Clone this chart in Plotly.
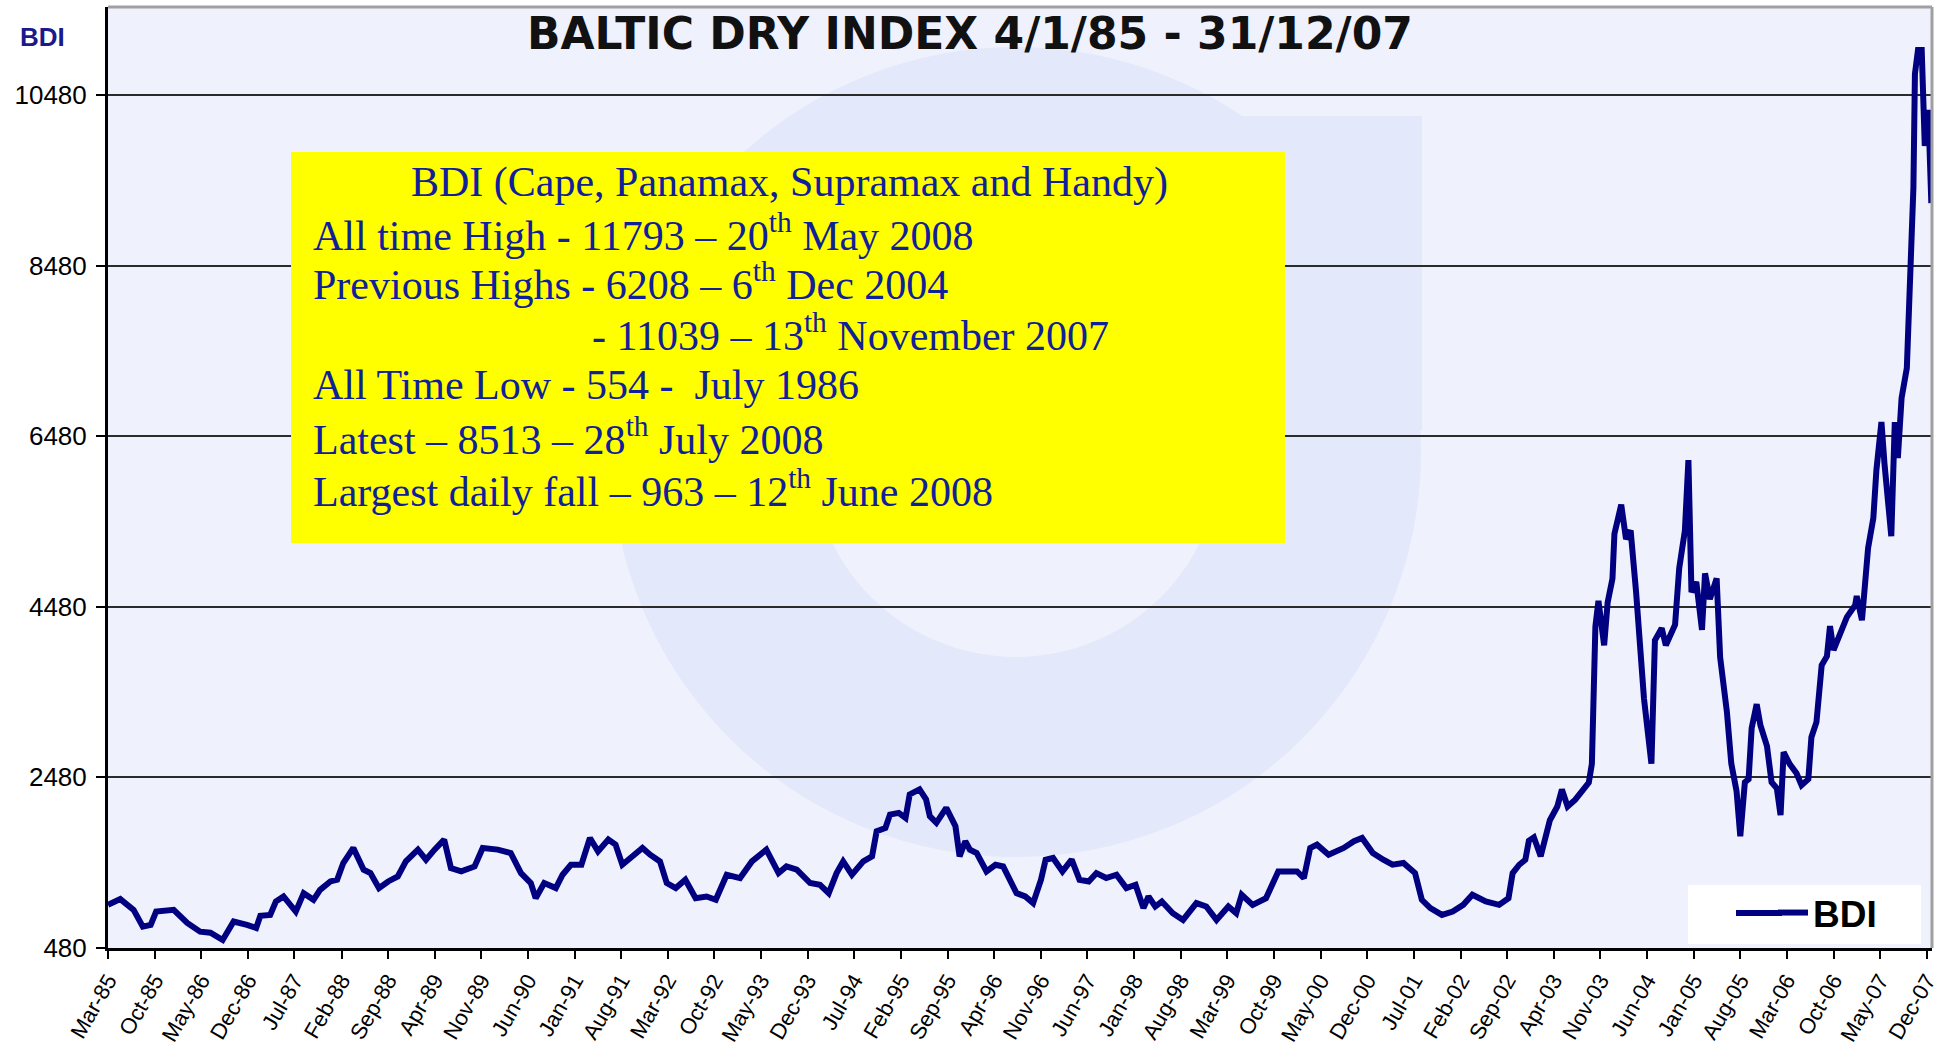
import plotly.graph_objects as go
import pandas as pd

# ---------------- data ----------------
dates = [
    "1985-03-01", "1985-04-26", "1985-06-26", "1985-08-07", "1985-09-12", "1985-10-07", "1985-12-26",
    "1986-02-26", "1986-04-26", "1986-06-12", "1986-08-07", "1986-09-26", "1986-11-26",
    "1987-01-07", "1987-01-26", "1987-03-12", "1987-04-07", "1987-05-12", "1987-07-07", "1987-08-12",
    "1987-09-26", "1987-10-26", "1987-12-12",
    "1988-01-12", "1988-02-09", "1988-03-26", "1988-05-12", "1988-06-12", "1988-07-21", "1988-09-01",
    "1988-10-15", "1988-11-21",
    "1989-01-15", "1989-02-21", "1989-04-01", "1989-05-15", "1989-06-15", "1989-08-01", "1989-10-01",
    "1989-11-07",
    "1990-01-15", "1990-03-15", "1990-05-01", "1990-06-15", "1990-07-07", "1990-08-15", "1990-10-07",
    "1990-11-07", "1990-12-15",
    "1991-02-01", "1991-03-12", "1991-04-18", "1991-06-04", "1991-07-07", "1991-08-07", "1991-09-21",
    "1991-11-07", "1991-12-12",
    "1992-01-26", "1992-02-26", "1992-04-07", "1992-05-21", "1992-07-07", "1992-08-26", "1992-10-07",
    "1992-11-26",
    "1993-01-26", "1993-03-21", "1993-05-26", "1993-07-21", "1993-08-26", "1993-10-12", "1993-12-12",
    "1994-01-26", "1994-03-07", "1994-04-12", "1994-05-12", "1994-06-21", "1994-08-12", "1994-09-21",
    "1994-10-12", "1994-11-21", "1994-12-12",
    "1995-01-21", "1995-02-21", "1995-03-12", "1995-04-26", "1995-05-26", "1995-06-12", "1995-07-12",
    "1995-08-26", "1995-10-07", "1995-10-26", "1995-11-21", "1995-12-12",
    "1996-01-12", "1996-02-26", "1996-04-07", "1996-05-12", "1996-07-12", "1996-08-21", "1996-09-26",
    "1996-11-01", "1996-11-22", "1996-12-26",
    "1997-02-07", "1997-03-21", "1997-04-26", "1997-06-07", "1997-07-12", "1997-08-26", "1997-10-12",
    "1997-11-26",
    "1998-01-07", "1998-02-12", "1998-03-07", "1998-04-07", "1998-05-07", "1998-06-26", "1998-08-12",
    "1998-10-12", "1998-11-26",
    "1999-01-12", "1999-03-07", "1999-04-12", "1999-05-07", "1999-06-26", "1999-08-26", "1999-10-21",
    "1999-11-26",
    "2000-01-15", "2000-02-15", "2000-03-15", "2000-04-15", "2000-06-07", "2000-08-15", "2000-10-01",
    "2000-11-07", "2000-12-07", "2000-12-26",
    "2001-02-12", "2001-03-26", "2001-05-15", "2001-07-07", "2001-08-07", "2001-09-15", "2001-11-07",
    "2001-12-26",
    "2002-02-12", "2002-03-26", "2002-05-26", "2002-07-26", "2002-09-07", "2002-09-26", "2002-10-26",
    "2002-11-23", "2002-12-09",
    "2003-01-01", "2003-02-01", "2003-02-23", "2003-03-15", "2003-04-18", "2003-05-09", "2003-06-04",
    "2003-07-09", "2003-08-09", "2003-09-09", "2003-09-23", "2003-10-04", "2003-10-09", "2003-10-23",
    "2003-11-18", "2003-12-04", "2003-12-26",
    "2004-01-04", "2004-02-04", "2004-02-26", "2004-03-18", "2004-04-12", "2004-05-04", "2004-05-18",
    "2004-06-21", "2004-07-07", "2004-08-07", "2004-08-26", "2004-10-07", "2004-10-26", "2004-11-21",
    "2004-12-07", "2004-12-21",
    "2005-01-12", "2005-02-07", "2005-02-21", "2005-03-15", "2005-04-15", "2005-05-01", "2005-06-01",
    "2005-06-21", "2005-07-15", "2005-08-01", "2005-08-22", "2005-09-08", "2005-09-22", "2005-10-15",
    "2005-11-01", "2005-12-01", "2005-12-22",
    "2006-01-15", "2006-02-01", "2006-02-15", "2006-03-15", "2006-04-15", "2006-05-08", "2006-06-08",
    "2006-06-22", "2006-07-15", "2006-08-08", "2006-09-01", "2006-09-15", "2006-10-01", "2006-11-01",
    "2006-12-01",
    "2007-01-08", "2007-01-15", "2007-02-08", "2007-02-22", "2007-03-08", "2007-04-01", "2007-04-15",
    "2007-05-08", "2007-05-22", "2007-06-22", "2007-07-08", "2007-07-22", "2007-08-08", "2007-09-01",
    "2007-09-15", "2007-10-01", "2007-10-08", "2007-10-22", "2007-11-08", "2007-11-22", "2007-12-08",
    "2007-12-22",
]

bdi = [
    986, 1053, 927, 731, 751, 907, 927,
    774, 672, 660, 574, 790, 751,
    715, 857, 868, 1025, 1084, 907, 1123,
    1045, 1162, 1260,
    1280, 1476, 1653, 1398, 1358, 1182, 1260,
    1319, 1495,
    1633, 1515, 1633, 1751, 1417, 1378, 1436,
    1653,
    1633, 1594, 1358, 1241, 1064, 1241, 1182,
    1339, 1456,
    1456, 1770, 1613, 1751, 1692, 1456, 1554,
    1653, 1574,
    1495, 1241, 1182, 1280, 1064, 1084, 1045,
    1339,
    1300, 1495, 1633, 1358, 1436, 1398, 1241,
    1221, 1123, 1358, 1495, 1339, 1495, 1554,
    1848, 1887, 2044,
    2064, 2005, 2280, 2339, 2221, 2025, 1947,
    2123, 1907, 1554, 1731, 1633,
    1594, 1378, 1456, 1436, 1123, 1084, 1006,
    1280, 1515, 1535,
    1378, 1515, 1280, 1260, 1358, 1300, 1339,
    1182,
    1221, 947, 1084, 966, 1025, 888, 809,
    1006, 966,
    809, 966, 888, 1104, 986, 1064, 1378,
    1378,
    1378, 1300, 1653, 1692, 1574, 1653, 1731,
    1770, 1653, 1594,
    1515, 1456, 1476, 1358, 1045, 947, 868,
    907,
    986, 1104, 1025, 986, 1064, 1358, 1456,
    1515, 1736,
    1777, 1555, 1777, 1978, 2138, 2339, 2138,
    2219, 2319, 2420, 2641, 3445, 4249, 4550,
    4028, 4530, 4811,
    5334, 5676, 5274, 5374, 4651, 3927, 3405,
    2641, 4088, 4229, 4028, 4269, 4932, 5374,
    6199, 4651,
    4771, 4209, 4872, 4570, 4812, 3887, 3244,
    2641, 2319, 1790, 2424, 2459, 3057, 3338,
    3092, 2846, 2424,
    2353, 2037, 2775, 2635, 2529, 2389, 2459,
    2951, 3127, 3796, 3901, 4253, 3972, 4148,
    4359,
    4499, 4605, 4323, 4746, 5168, 5520, 6082,
    6645, 6153, 5308, 6645, 6223, 6927, 7278,
    8334, 9389, 10726, 11007, 11007, 9882, 10304,
    9213,
]

x_tick_labels = [
    "Mar-85", "Oct-85", "May-86", "Dec-86", "Jul-87", "Feb-88", "Sep-88", "Apr-89", "Nov-89", "Jun-90",
    "Jan-91", "Aug-91", "Mar-92", "Oct-92", "May-93", "Dec-93", "Jul-94", "Feb-95", "Sep-95", "Apr-96",
    "Nov-96", "Jun-97", "Jan-98", "Aug-98", "Mar-99", "Oct-99", "May-00", "Dec-00", "Jul-01", "Feb-02",
    "Sep-02", "Apr-03", "Nov-03", "Jun-04", "Jan-05", "Aug-05", "Mar-06", "Oct-06", "May-07", "Dec-07",
]
x_tick_dates = pd.date_range("1985-03-01", periods=len(x_tick_labels), freq="7MS")
y_tick_values = [480, 2480, 4480, 6480, 8480, 10480]
y_tick_labels = ["480", "2480", "4480", "6480", "8480", "10480"]

title_text = "BALTIC DRY INDEX 4/1/85 - 31/12/07"
y_label_text = "BDI"
series_name = "BDI"
info_title = "BDI (Cape, Panamax, Supramax and Handy)"
info_lines = [
    "All time High - 11793 \u2013 20<sup>th</sup> May 2008",
    "Previous Highs - 6208 \u2013 6<sup>th</sup> Dec 2004",
    "- 11039 \u2013 13<sup>th</sup> November 2007",
    "All Time Low - 554 -\u00a0 July 1986",
    "Latest \u2013 8513 \u2013 28<sup>th</sup> July 2008",
    "Largest daily fall \u2013 963 \u2013 12<sup>th</sup> June 2008",
]

# ---------------- geometry helpers (pixel -> paper) ----------------
W, H = 1943, 1047
L, R, T, B = 108, 11, 7, 99
PW, PH = W - L - R, H - T - B


def px(x):
    return (x - L) / PW


def py(y):
    return (H - B - y) / PH


NAVY = "#000080"
TEXT_NAVY = "#10209A"
PLOT_BG = "#EFF1FD"
WATER = "#E3E9FA"

fig = go.Figure()
fig.add_trace(go.Scatter(
    x=dates, y=bdi, mode="lines", name="<b>" + series_name + "</b>",
    line=dict(color=NAVY, width=6),
))

CX, CY, RM = 1016, 452, 305
shapes = [
    dict(type="rect", xref="paper", yref="paper", x0=0, x1=1, y0=0, y1=1,
         fillcolor=PLOT_BG, line=dict(width=0), layer="below"),
    # faint watermark logo
    dict(type="circle", xref="paper", yref="paper",
         x0=px(CX - RM), x1=px(CX + RM), y0=py(CY + RM), y1=py(CY - RM),
         line=dict(color=WATER, width=200), fillcolor="rgba(0,0,0,0)", layer="below"),
    dict(type="rect", xref="paper", yref="paper", x0=px(1221), x1=px(1422), y0=py(430), y1=py(116),
         fillcolor=WATER, line=dict(width=0), layer="below"),
    dict(type="rect", xref="paper", yref="paper", x0=px(991), x1=px(1221), y0=py(213), y1=py(116),
         fillcolor=WATER, line=dict(width=0), layer="below"),
    # grey top / right frame
    dict(type="line", xref="paper", yref="paper", x0=0, x1=1, y0=1, y1=1,
         line=dict(color="#A0A0A0", width=3), layer="above"),
    dict(type="line", xref="paper", yref="paper", x0=1, x1=1, y0=0, y1=1,
         line=dict(color="#A0A0A0", width=3), layer="above"),
    # yellow info box
    dict(type="rect", xref="paper", yref="paper", x0=px(291), x1=px(1285), y0=py(543), y1=py(152),
         fillcolor="#FFFF00", line=dict(width=0), layer="above"),
    # legend white box and the long part of its line sample
    dict(type="rect", xref="paper", yref="paper", x0=px(1688), x1=px(1921), y0=py(944), y1=py(885),
         fillcolor="white", line=dict(width=0), layer="above"),
    dict(type="line", xref="paper", yref="paper", x0=px(1736), x1=px(1782), y0=py(913), y1=py(913),
         line=dict(color=NAVY, width=6), layer="above"),
]

serif = "Liberation Serif, Times New Roman, serif"
annotations = [
    dict(text="<b>" + title_text + "</b>", xref="paper", yref="paper", x=px(970), y=py(34),
         xanchor="center", yanchor="middle", showarrow=False,
         font=dict(family="DejaVu Sans, Verdana, sans-serif", size=44, color="#111111")),
    dict(text="<b>" + y_label_text + "</b>", xref="paper", yref="paper", x=px(42), y=py(37),
         xanchor="center", yanchor="middle", showarrow=False,
         font=dict(family="Liberation Sans, Arial, sans-serif", size=26, color="#1A1A8C")),
    dict(text=info_title, xref="paper", yref="paper", x=px(789), y=py(182),
         xanchor="center", yanchor="middle", showarrow=False,
         font=dict(family=serif, size=42, color=TEXT_NAVY)),
]
line_y = [232, 282, 333, 385, 436, 488]
line_x = [311, 311, 590, 311, 311, 311]
for txt, lx, ly in zip(info_lines, line_x, line_y):
    annotations.append(dict(text=txt, xref="paper", yref="paper", x=px(lx), y=py(ly),
                            xanchor="left", yanchor="middle", showarrow=False,
                            font=dict(family=serif, size=42, color=TEXT_NAVY)))

fig.update_layout(
    width=W, height=H,
    margin=dict(l=L, r=R, t=T, b=B, pad=0, autoexpand=False),
    paper_bgcolor="white",
    plot_bgcolor="rgba(0,0,0,0)",
    shapes=shapes,
    annotations=annotations,
    showlegend=True,
    legend=dict(x=px(1882), y=py(913), xanchor="right", yanchor="middle",
                bgcolor="rgba(0,0,0,0)", borderwidth=0,
                font=dict(family="Liberation Sans, Arial, sans-serif", size=37, color="black")),
    xaxis=dict(
        type="date", automargin=False,
        range=["1985-03-01", "2007-12-25"],
        tickmode="array", tickvals=x_tick_dates, ticktext=x_tick_labels,
        tickangle=-60,
        tickfont=dict(family="Liberation Sans, Arial, sans-serif", size=22, color="black"),
        ticks="outside", ticklen=8, tickwidth=2, tickcolor="black",
        showline=True, linecolor="black", linewidth=3,
        showgrid=False, zeroline=False,
    ),
    yaxis=dict(
        automargin=False,
        range=[480, 11511],
        tickmode="array", tickvals=y_tick_values, ticktext=y_tick_labels,
        tickfont=dict(family="Liberation Sans, Arial, sans-serif", size=26, color="black"),
        ticks="outside", ticklen=9, tickwidth=2, tickcolor="black",
        showline=True, linecolor="black", linewidth=3,
        showgrid=True, gridcolor="#2B2B2B", gridwidth=2,
        zeroline=False, ticklabelstandoff=4,
    ),
)

fig.write_html(
    "out.html",
    config={"displayModeBar": False},
    post_script="document.body.style.margin='0';document.body.style.overflow='hidden';",
)
